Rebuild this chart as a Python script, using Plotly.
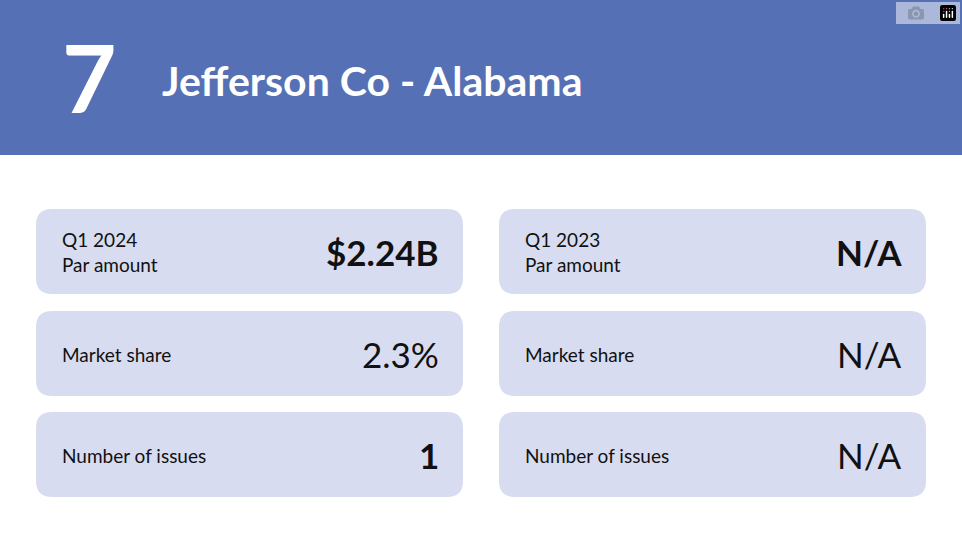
import plotly.graph_objects as go

rank = "7"
issuer = "Jefferson Co - Alabama"
labels = ["Q1 2024<br>Par amount", "Market share", "Number of issues"]
labels_prev = ["Q1 2023<br>Par amount", "Market share", "Number of issues"]
values_2024 = ["$2.24B", "2.3%", "1"]
values_2023 = ["N/A", "N/A", "N/A"]

W, H = 962, 550
header_col = "#5670b5"
card_col = "#d8dcf0"
font = "Lato"


def rounded(x0, y0, x1, y1, r):
    return (f"M{x0+r},{y0} L{x1-r},{y0} Q{x1},{y0} {x1},{y0+r} "
            f"L{x1},{y1-r} Q{x1},{y1} {x1-r},{y1} L{x0+r},{y1} "
            f"Q{x0},{y1} {x0},{y1-r} L{x0},{y0+r} Q{x0},{y0} {x0+r},{y0} Z")


fig = go.Figure()
shapes = [dict(type="rect", x0=0, x1=W, y0=0, y1=155, fillcolor=header_col,
               line_width=0, layer="below")]
ann = [
    dict(x=89, y=76, text=f"<b>{rank}</b>", font=dict(size=94, color="white", family=font),
         xanchor="center"),
    dict(x=160, y=80, text=f"<b>{issuer}</b>", font=dict(size=41, color="white", family=font),
         xanchor="left"),
]

row_tops = [209, 311, 412]
cols = [(36, 463, labels, values_2024), (499, 926, labels_prev, values_2023)]
for x0, x1, labs, vals in cols:
    for i, top in enumerate(row_tops):
        shapes.append(dict(type="path", path=rounded(x0, top, x1, top + 85, 16),
                           fillcolor=card_col, line_width=0, layer="below"))
        cy = top + 43
        ann.append(dict(x=x0 + 24, y=cy, text=labs[i], xanchor="left", align="left",
                        font=dict(size=19, color="#111", family=font)))
        v = f"<b>{vals[i]}</b>" if i == 0 or vals[i] == "1" else vals[i]
        ann.append(dict(x=x1 - 22, y=cy, text=v, xanchor="right",
                        font=dict(size=35, color="#111", family=font)))

for a in ann:
    a.update(xref="x", yref="y", showarrow=False, yanchor="middle")

fig.update_layout(
    width=W, height=H, margin=dict(l=0, r=0, t=0, b=0),
    paper_bgcolor="white", plot_bgcolor="white",
    xaxis=dict(range=[0, W], visible=False, fixedrange=True),
    yaxis=dict(range=[H, 0], visible=False, fixedrange=True),
    shapes=shapes, annotations=ann, showlegend=False,
)
fig.write_html("out.html", post_script="document.body.style.margin='0';")
